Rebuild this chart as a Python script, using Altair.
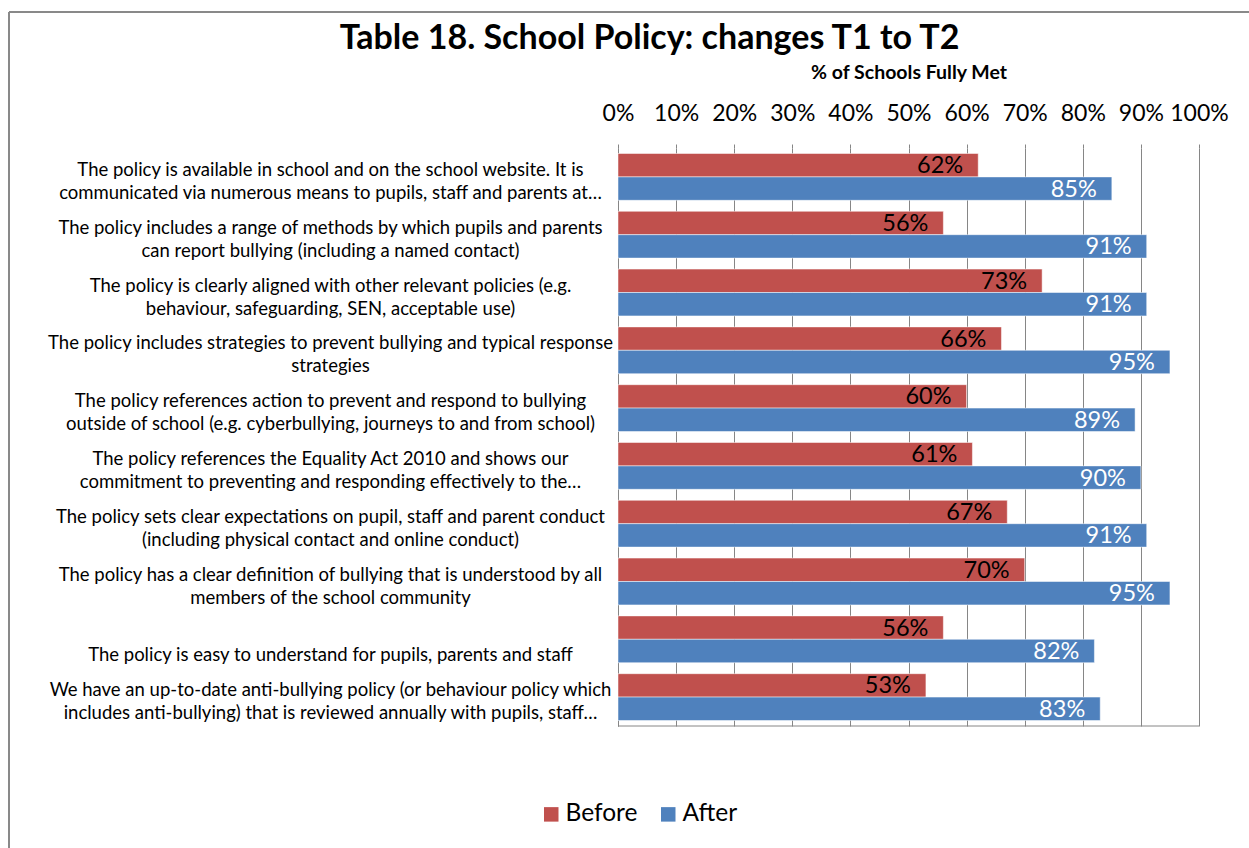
import altair as alt
import pandas as pd

categories = [
    "The policy is available in school and on the school website. It is|communicated via numerous means to pupils, staff and parents at…",
    "The policy includes a range of methods by which pupils and parents|can report bullying (including a named contact)",
    "The policy is clearly aligned with other relevant policies (e.g.|behaviour, safeguarding, SEN, acceptable use)",
    "The policy includes strategies to prevent bullying and typical response|strategies",
    "The policy references action to prevent and respond to bullying|outside of school (e.g. cyberbullying, journeys to and from school)",
    "The policy references the Equality Act 2010 and shows our|commitment to preventing and responding effectively to the…",
    "The policy sets clear expectations on pupil, staff and parent conduct|(including physical contact and online conduct)",
    "The policy has a clear definition of bullying that is understood by all|members of the school community",
    "|The policy is easy to understand for pupils, parents and staff",
    "We have an up-to-date anti-bullying policy (or behaviour policy which|includes anti-bullying) that is reviewed annually with pupils, staff…",
]
before = [62, 56, 73, 66, 60, 61, 67, 70, 56, 53]
after = [85, 91, 91, 95, 89, 90, 91, 95, 82, 83]
series = ["Before", "After"]
colors = ["#C0504D", "#4F81BD"]
tick_values = [0, 10, 20, 30, 40, 50, 60, 70, 80, 90, 100]

rows = []
for c, b, a in zip(categories, before, after):
    rows.append({"category": c, "series": "Before", "value": b})
    rows.append({"category": c, "series": "After", "value": a})
df = pd.DataFrame(rows)
df["label"] = df["value"].astype(str) + "%"

FONT = "Lato"
W, H = 581, 578

x_enc = alt.X(
    "value:Q",
    scale=alt.Scale(domain=[0, 100]),
    axis=alt.Axis(
        orient="top",
        values=tick_values,
        labelExpr="datum.value + '%'",
        title="% of Schools Fully Met",
        titleFont=FONT,
        titleFontSize=19.5,
        titleFontWeight="bold",
        titlePadding=20,
        labelFont=FONT,
        labelFontSize=23,
        labelColor="black",
        labelPadding=19,
        labelOverlap=False,
        labelFlush=False,
        domain=False,
        ticks=True,
        tickSize=4,
        tickColor="#868686",
        grid=True,
        gridColor="#868686",
        gridWidth=1,
        gridOpacity=1,
    ),
)

y_enc = alt.Y(
    "category:N",
    sort=categories,
    scale=alt.Scale(paddingInner=0.19, paddingOuter=0.095),
    axis=alt.Axis(
        title=None,
        labelExpr="split(datum.label, '|')",
        labelAlign="center",
        labelBaseline="middle",
        labelPadding=288,
        labelOffset=-7,
        labelFont=FONT,
        labelFontSize=18.5,
        labelLineHeight=23,
        labelColor="black",
        labelLimit=0,
        ticks=False,
        tickSize=0,
        domain=True,
        domainColor="#868686",
        domainWidth=1,
        grid=False,
    ),
)

yoff = alt.YOffset("series:N", sort=series, scale=alt.Scale(domain=series, paddingInner=0, paddingOuter=0))

bars = alt.Chart(df).mark_bar(stroke="white", strokeWidth=0.5).encode(
    x=x_enc,
    y=y_enc,
    yOffset=yoff,
    color=alt.Color(
        "series:N",
        sort=series,
        scale=alt.Scale(domain=series, range=colors),
        legend=alt.Legend(
            title=None,
            orient="none",
            direction="horizontal",
            legendX=-79,
            legendY=654,
            symbolType="square",
            symbolSize=210,
            symbolStrokeWidth=0,
            labelFont=FONT,
            labelFontSize=24.5,
            labelColor="black",
            labelOffset=2,
            columnPadding=18,
        ),
    ),
)

texts = alt.Chart(df).mark_text(
    align="right", baseline="middle", dx=-15, dy=1, font=FONT, fontSize=23.5
).encode(
    x=x_enc,
    y=y_enc,
    yOffset=yoff,
    text="label:N",
    color=alt.condition(alt.datum.series == "Before", alt.value("black"), alt.value("white")),
)

frame_df = pd.DataFrame({"k": [0]})
bottom_rule = alt.Chart(frame_df).mark_rule(color="#868686", strokeWidth=1).encode(
    x=alt.value(0), x2=alt.value(W), y=alt.value(H)
)
frame_left = alt.Chart(frame_df).mark_rule(color="#898989", strokeWidth=2).encode(
    x=alt.value(-609), y=alt.value(-136), y2=alt.value(H + 130)
)
frame_top = alt.Chart(frame_df).mark_rule(color="#898989", strokeWidth=2).encode(
    x=alt.value(-609), x2=alt.value(W + 80), y=alt.value(-136)
)

chart = (
    alt.layer(bars, texts, bottom_rule, frame_left, frame_top)
    .properties(
        width=W,
        height=H,
        title=alt.TitleParams(
            "Table 18. School Policy: changes T1 to T2",
            font=FONT,
            fontSize=34,
            fontWeight="bold",
            color="black",
            anchor="middle",
            dx=-259,
            offset=-45,
        ),
        autosize=alt.AutoSizeParams(type="none"),
        padding={"left": 618, "top": 148, "right": 50, "bottom": 122},
    )
    .configure(font=FONT, background="white")
    .configure_view(stroke=None)
)

chart.save("out.html", embed_options={"renderer": "svg", "actions": False})
